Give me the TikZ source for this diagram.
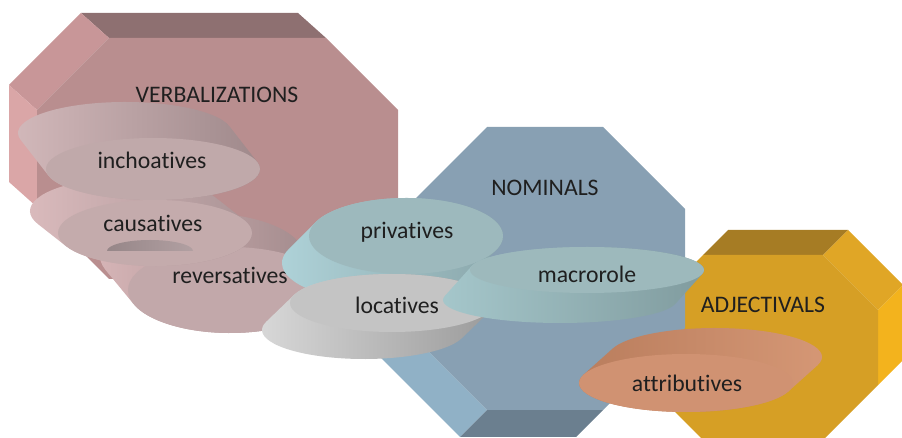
\documentclass[tikz,border=0pt]{standalone}
\usepackage{fontspec}
\setmainfont{Carlito}[Ligatures=NoCommon]
\usetikzlibrary{shapes,arrows}

\definecolor{verbfront}{HTML}{B98E8F}
\definecolor{verbtop}{HTML}{8E7071}
\definecolor{verbdiag}{HTML}{C89698}
\definecolor{verbleft}{HTML}{DAA6A7}
\definecolor{nomfront}{HTML}{88A0B3}
\definecolor{nomleft}{HTML}{8CABC0}
\definecolor{nomdiag}{HTML}{90B1C6}
\definecolor{nombottom}{HTML}{6B7F8F}
\definecolor{adjfront}{HTML}{D69F25}
\definecolor{adjtop}{HTML}{A67C24}
\definecolor{adjdiag}{HTML}{E0A626}
\definecolor{adjright}{HTML}{F3B31D}

% extruded ellipse: centre x, centre y, x radius, y radius, shift x, shift y, style prefix
\newcommand{\disc}[7]{%
	\pgfmathsetmacro{\dang}{atan2(-(#4)*(#5),(#3)*(#6))}
	\shade[#7side] ({#1+(#5)+#3*cos(\dang)},{#2+(#6)+#4*sin(\dang)})
		arc[start angle=\dang, delta angle=180, x radius=#3, y radius=#4]
		-- ({#1+#3*cos(\dang+180)},{#2+#4*sin(\dang+180)})
		arc[start angle=\dang+180, delta angle=180, x radius=#3, y radius=#4] -- cycle;
	\fill[#7top] (#1,#2) ellipse [x radius=#3, y radius=#4];
}

\begin{document}
\begin{tikzpicture}[x=0.02cm, y=-0.02cm]
		\tikzstyle {lbl} = [font=\fontsize{13.5}{16}\selectfont, text=black!88, inner sep=0pt]
		\tikzstyle {inchside} = [left color={rgb,255:red,211;green,185;blue,187}, right color={rgb,255:red,157;green,135;blue,137}]
		\tikzstyle {inchtop} = [fill={rgb,255:red,192;green,169;blue,170}]
		\tikzstyle {causside} = [left color={rgb,255:red,220;green,188;blue,190}, right color={rgb,255:red,168;green,146;blue,148}]
		\tikzstyle {caustop} = [fill={rgb,255:red,196;green,171;blue,172}]
		\tikzstyle {revside} = [left color={rgb,255:red,216;green,182;blue,184}, right color={rgb,255:red,155;green,133;blue,135}]
		\tikzstyle {revtop} = [fill={rgb,255:red,194;green,168;blue,170}]
		\tikzstyle {privside} = [left color={rgb,255:red,176;green,212;blue,218}, right color={rgb,255:red,136;green,164;blue,168}]
		\tikzstyle {privtop} = [fill={rgb,255:red,157;green,185;blue,189}]
		\tikzstyle {locside} = [left color={rgb,255:red,218;green,218;blue,218}, right color={rgb,255:red,152;green,152;blue,152}]
		\tikzstyle {loctop} = [fill={rgb,255:red,196;green,196;blue,196}]
		\tikzstyle {macside} = [left color={rgb,255:red,166;green,200;blue,204}, right color={rgb,255:red,127;green,154;blue,157}]
		\tikzstyle {mactop} = [fill={rgb,255:red,157;green,185;blue,188}]
		\tikzstyle {attrside} = [left color={rgb,255:red,184;green,124;blue,92}, middle color={rgb,255:red,160;green,118;blue,94}, right color={rgb,255:red,214;green,152;blue,118}]
		\tikzstyle {attrtop} = [fill={rgb,255:red,208;green,146;blue,114}]

		\useasboundingbox (0,0) rectangle (902,438);

		% VERBALIZATIONS block
		\fill[verbtop] (109,38) -- (326,38) -- (298,13) -- (81,13) -- cycle;
		\fill[verbdiag] (37,110) -- (109,38) -- (81,13) -- (9,85) -- cycle;
		\fill[verbleft] (37,110) -- (37,207) -- (9,182) -- (9,85) -- cycle;
		\fill[verbfront] (109,38) -- (326,38) -- (398,110) -- (398,207) -- (326,279) -- (109,279) -- (37,207) -- (37,110) -- cycle;
		\node[lbl] (verb) at (217,95) {VERBALIZATIONS};

		% ADJECTIVALS block
		\fill[adjtop] (703,255) -- (823,255) -- (848,230) -- (728,230) -- cycle;
		\fill[adjdiag] (823,255) -- (878,310) -- (903,285) -- (848,230) -- cycle;
		\fill[adjright] (878,310) -- (878,385) -- (903,360) -- (903,285) -- cycle;
		\fill[adjfront] (703,255) -- (823,255) -- (878,310) -- (878,385) -- (823,440) -- (703,440) -- (648,385) -- (648,310) -- cycle;
		\node[lbl] (adj) at (763,305) {ADJECTIVALS};

		% NOMINALS block
		\fill[nomleft] (405,209) -- (405,328) -- (378,355) -- (378,236) -- cycle;
		\fill[nomdiag] (405,328) -- (487,410) -- (460,437) -- (378,355) -- cycle;
		\fill[nombottom] (487,410) -- (603,410) -- (576,437) -- (460,437) -- cycle;
		\fill[nomfront] (487,127) -- (603,127) -- (685,209) -- (685,328) -- (603,410) -- (487,410) -- (405,328) -- (405,209) -- cycle;
		\node[lbl] (nom) at (545,188) {NOMINALS};

		% discs
		\disc{230}{290}{102}{43}{-28}{-34}{rev}
		\node[lbl] (reversatives) at (230,275) {reversatives};

		\disc{155}{233}{97}{33}{-28}{-22}{caus}
		\shade[left color={rgb,255:red,150;green,134;blue,136}, right color={rgb,255:red,178;green,160;blue,162}] (107,251) arc[start angle=180, end angle=360, x radius=43, y radius=11] -- cycle;
		\node[lbl] (causatives) at (153,223) {causatives};

		\disc{153}{169}{107}{31}{-28}{-36}{inch}
		\node[lbl] (inchoatives) at (152,160) {inchoatives};

		\disc{406}{236}{97}{38}{-27}{27}{priv}
		\node[lbl] (privatives) at (407,232) {privatives};

		\disc{392}{303}{102}{29}{-28}{27}{loc}
		\node[lbl] (locatives) at (397,305) {locatives};

		\disc{587}{270}{117}{23}{-27}{30}{mac}
		\node[lbl] (macrorole) at (587,274) {macrorole};

		\disc{686}{383}{107}{29}{29}{-26}{attr}
		\node[lbl] (attributives) at (687,383) {attributives};
\end{tikzpicture}
\end{document}
